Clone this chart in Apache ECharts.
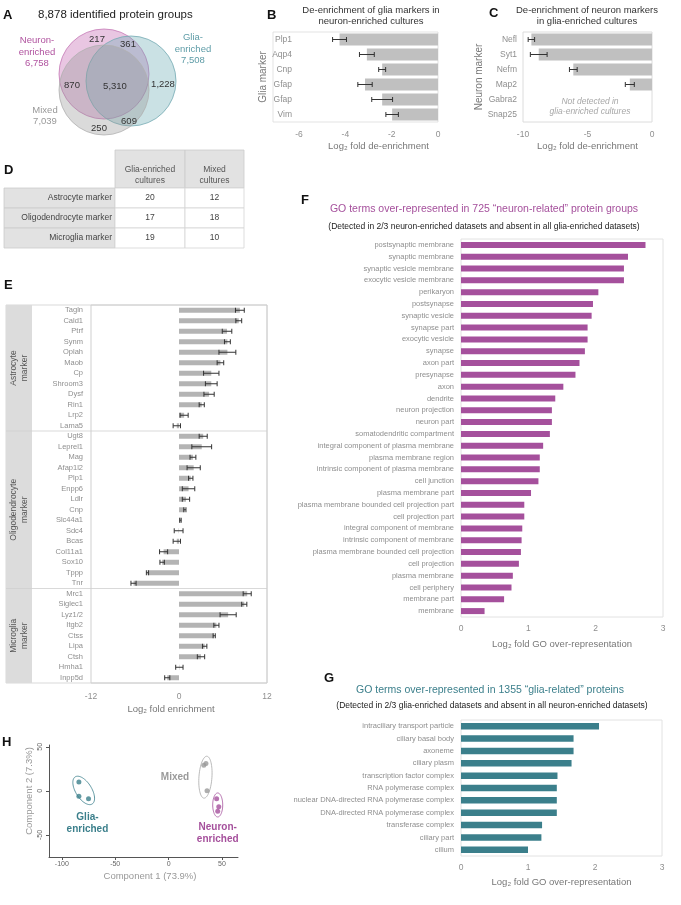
<!DOCTYPE html>
<html>
<head>
<meta charset="utf-8">
<script src="https://cdn.jsdelivr.net/npm/echarts@6/dist/echarts.min.js"></script>
<style>
  html, body { margin: 0; padding: 0; background: #fff; }
  #chart { width: 681px; height: 905px; }
</style>
</head>
<body>
<div id="chart"></div>
<script>
// A - venn
const vennSets = ['Neuron-\nenriched\n6,758', 'Glia-\nenriched\n7,508', 'Mixed\n7,039'];
const vennCounts = ['217', '361', '870', '5,310', '1,228', '609', '250'];

// B - glia markers in neuron-enriched cultures
const bGenes = ['Plp1', 'Aqp4', 'Cnp', 'Gfap', 'Gfap', 'Vim'];
const bValues = [-4.25, -3.07, -2.41, -3.15, -2.41, -1.98];
const bErrors = [0.3, 0.32, 0.15, 0.31, 0.45, 0.27];

// C - neuron markers in glia-enriched cultures
const cGenes = ['Nefl', 'Syt1', 'Nefm', 'Map2', 'Gabra2', 'Snap25'];
const cValues = [-9.35, -8.78, -6.1, -1.72, null, null];
const cErrors = [0.25, 0.65, 0.3, 0.35, null, null];

// D - table
const dRows = ['Astrocyte marker', 'Oligodendrocyte marker', 'Microglia marker'];
const dCols = ['Glia-enriched\ncultures', 'Mixed\ncultures'];
const dGlia = [20, 17, 19];
const dMixed = [12, 18, 10];

// E - marker enrichment
const eGroups = ['Astrocyte\nmarker', 'Oligodendrocyte\nmarker', 'Microglia\nmarker'];
const eGroupSizes = [12, 15, 9];
const eGenes = ['Tagln', 'Cald1', 'Ptrf', 'Synm', 'Oplah', 'Maob', 'Cp', 'Shroom3', 'Dysf', 'Rin1', 'Lrp2', 'Lama5',
  'Ugt8', 'Leprel1', 'Mag', 'Afap1l2', 'Plp1', 'Enpp6', 'Ldlr', 'Cnp', 'Slc44a1', 'Sdc4', 'Bcas', 'Col11a1', 'Sox10', 'Tppp', 'Tnr',
  'Mrc1', 'Siglec1', 'Lyz1/2', 'Itgb2', 'Ctss', 'Lipa', 'Ctsh', 'Hmha1', 'Inpp5d'];
const eValues = [8.3, 8.15, 6.55, 6.6, 6.6, 5.65, 4.4, 4.4, 4.1, 3.1, 0.7, -0.3,
  3.3, 3.1, 1.9, 2.0, 1.6, 1.3, 0.95, 0.8, 0.2, -0.05, -0.3, -2.1, -2.3, -4.3, -6.2,
  9.3, 8.9, 6.7, 5.1, 4.8, 3.5, 3.0, 0.05, -1.6];
const eErrors = [0.6, 0.4, 0.65, 0.4, 1.15, 0.45, 1.05, 0.8, 0.7, 0.35, 0.55, 0.5,
  0.55, 1.35, 0.4, 0.9, 0.3, 0.85, 0.5, 0.15, 0.1, 0.6, 0.5, 0.55, 0.3, 0.15, 0.35,
  0.55, 0.35, 1.1, 0.35, 0.15, 0.3, 0.5, 0.5, 0.35];

// F - GO terms neuron-related
const fTerms = ['postsynaptic membrane', 'synaptic membrane', 'synaptic vesicle membrane', 'exocytic vesicle membrane',
  'perikaryon', 'postsynapse', 'synaptic vesicle', 'synapse part', 'exocytic vesicle', 'synapse', 'axon part',
  'presynapse', 'axon', 'dendrite', 'neuron projection', 'neuron part', 'somatodendritic compartment',
  'integral component of plasma membrane', 'plasma membrane region', 'intrinsic component of plasma membrane',
  'cell junction', 'plasma membrane part', 'plasma membrane bounded cell projection part', 'cell projection part',
  'integral component of membrane', 'intrinsic component of membrane', 'plasma membrane bounded cell projection',
  'cell projection', 'plasma membrane', 'cell periphery', 'membrane part', 'membrane'];
const fValues = [2.74, 2.48, 2.42, 2.42, 2.04, 1.96, 1.94, 1.88, 1.88, 1.84, 1.76, 1.70, 1.52, 1.40, 1.35, 1.35,
  1.32, 1.22, 1.17, 1.17, 1.15, 1.04, 0.94, 0.94, 0.91, 0.90, 0.89, 0.86, 0.77, 0.75, 0.64, 0.35];

// G - GO terms glia-related
const gTerms = ['intraciliary transport particle', 'ciliary basal body', 'axoneme', 'ciliary plasm',
  'transcription factor complex', 'RNA polymerase complex', 'nuclear DNA-directed RNA polymerase complex',
  'DNA-directed RNA polymerase complex', 'transferase complex', 'ciliary part', 'cilium'];
const gValues = [2.06, 1.68, 1.68, 1.65, 1.44, 1.43, 1.43, 1.43, 1.21, 1.20, 1.0];

// H - PCA
const hNames = ['Glia-\nenriched', 'Mixed', 'Neuron-\nenriched'];
const hGlia = [[-84, 10], [-84, -6], [-75, -9]];
const hMixed = [[33, 29], [35, 31], [36, 0]];
const hNeuron = [[45, -9], [47, -18], [46, -23]];

const FONT = '"Liberation Sans", Arial, Helvetica, sans-serif';
const MAGENTA = '#a5509c';
const TEAL = '#3b7f8b';
const LBL = '#8f8f8f';
const BAR = '#c0c0c0';

const chart = echarts.init(document.getElementById('chart'));

// error bars drawn with the axis scale
function errorBars(xi, vals, errs) {
  const data = [];
  vals.forEach((v, i) => { if (v != null) data.push([v, i, errs[i]]); });
  return {
    type: 'custom', xAxisIndex: xi, yAxisIndex: xi, data: data, z: 5,
    encode: { x: 0, y: 1 },
    renderItem: (params, api) => {
      const v = api.value(0), i = api.value(1), e = api.value(2);
      const p1 = api.coord([v - e, i]);
      const p2 = api.coord([v + e, i]);
      const h = 2.5;
      const st = { stroke: '#333', lineWidth: 1 };
      return {
        type: 'group', children: [
          { type: 'line', shape: { x1: p1[0], y1: p1[1], x2: p2[0], y2: p2[1] }, style: st },
          { type: 'line', shape: { x1: p1[0], y1: p1[1] - h, x2: p1[0], y2: p1[1] + h }, style: st },
          { type: 'line', shape: { x1: p2[0], y1: p2[1] - h, x2: p2[0], y2: p2[1] + h }, style: st }
        ]
      };
    }
  };
}

function catAxis(gi, data, margin, fontSize, extra) {
  return Object.assign({
    gridIndex: gi, type: 'category', data: data, inverse: true,
    axisLine: { show: false }, axisTick: { show: false }, splitLine: { show: false },
    axisLabel: { color: LBL, fontSize: fontSize, fontFamily: FONT, margin: margin }
  }, extra || {});
}

function valAxis(gi, min, max, interval, name, nameGap, pad, margin) {
  return {
    gridIndex: gi, type: 'value', min: min, max: max, interval: interval,
    axisLine: { show: false }, axisTick: { show: false }, splitLine: { show: false },
    axisLabel: { color: LBL, fontSize: 8.5, fontFamily: FONT, margin: margin },
    name: name, nameLocation: 'middle', nameGap: nameGap,
    nameTextStyle: { color: '#777', fontSize: 9.5, fontFamily: FONT, padding: pad }
  };
}

const hAxisLine = { onZero: false, lineStyle: { color: '#555', width: 1 } };

const option = {
  animation: false,
  textStyle: { fontFamily: FONT },
  grid: [
    { left: 299, top: 32, width: 139, height: 90 },
    { left: 523, top: 32, width: 129, height: 90, show: true, borderColor: '#dcdcdc' },
    { left: 91, top: 305, width: 176, height: 378, show: true, borderColor: '#cfcfcf' },
    { left: 461, top: 239, width: 202, height: 378, show: true, borderColor: '#e2e2e2' },
    { left: 461, top: 720, width: 201, height: 136, show: true, borderColor: '#e2e2e2' },
    { left: 49, top: 745, width: 189, height: 112 }
  ],
  xAxis: [
    valAxis(0, -6, 0, 2, 'Log\u2082 fold de-enrichment', 19, [0, 0, 0, 20], 8),
    valAxis(1, -10, 0, 5, 'Log\u2082 fold de-enrichment', 19, [0, 0, 0, 0], 8),
    valAxis(2, -12, 12, 12, 'Log\u2082 fold enrichment', 21, [0, 16, 0, 0], 9),
    valAxis(3, 0, 3, 1, 'Log\u2082 fold GO over-representation', 22, [0, 0, 0, 0], 7),
    valAxis(4, 0, 3, 1, 'Log\u2082 fold GO over-representation', 21, [0, 0, 0, 0], 7),
    {
      gridIndex: 5, type: 'value', min: -112, max: 65,
      axisLine: hAxisLine, splitLine: { show: false },
      axisTick: { show: true, length: 3, lineStyle: { color: '#555' }, customValues: [-100, -50, 0, 50] },
      axisLabel: { color: '#666', fontSize: 7, margin: 4, customValues: [-100, -50, 0, 50] }
    }
  ],
  yAxis: [
    catAxis(0, bGenes, 7, 8.5, {
      name: 'Glia marker', nameLocation: 'middle', nameGap: 31, nameRotate: 90,
      nameTextStyle: { color: '#777', fontSize: 10, fontFamily: FONT }
    }),
    catAxis(1, cGenes, 6, 8.5, {
      name: 'Neuron marker', nameLocation: 'middle', nameGap: 35, nameRotate: 90,
      nameTextStyle: { color: '#777', fontSize: 10, fontFamily: FONT }
    }),
    catAxis(2, eGenes, 8, 7.5),
    catAxis(3, fTerms, 7, 7.5),
    catAxis(4, gTerms, 7, 7.5),
    {
      gridIndex: 5, type: 'value', min: -75, max: 52,
      axisLine: hAxisLine, splitLine: { show: false },
      axisTick: { show: true, length: 3, lineStyle: { color: '#555' }, customValues: [-50, 0, 50] },
      axisLabel: { color: '#666', fontSize: 7, margin: 5, rotate: 90, customValues: [-50, 0, 50] }
    }
  ],
  series: [
    { type: 'bar', xAxisIndex: 0, yAxisIndex: 0, data: bValues, barWidth: 12, itemStyle: { color: BAR } },
    errorBars(0, bValues, bErrors),
    { type: 'bar', xAxisIndex: 1, yAxisIndex: 1, data: cValues, barWidth: 12, itemStyle: { color: BAR } },
    errorBars(1, cValues, cErrors),
    { type: 'bar', xAxisIndex: 2, yAxisIndex: 2, data: eValues, barWidth: 5, itemStyle: { color: '#b4b4b4' } },
    errorBars(2, eValues, eErrors),
    { type: 'bar', xAxisIndex: 3, yAxisIndex: 3, data: fValues, barWidth: 6, itemStyle: { color: MAGENTA } },
    { type: 'bar', xAxisIndex: 4, yAxisIndex: 4, data: gValues, barWidth: 6.5, itemStyle: { color: TEAL } },
    { type: 'scatter', xAxisIndex: 5, yAxisIndex: 5, data: hGlia, symbolSize: 5, itemStyle: { color: TEAL } },
    { type: 'scatter', xAxisIndex: 5, yAxisIndex: 5, data: hMixed, symbolSize: 5, itemStyle: { color: '#9a9a9a' } },
    { type: 'scatter', xAxisIndex: 5, yAxisIndex: 5, data: hNeuron, symbolSize: 5, itemStyle: { color: MAGENTA } }
  ]
};

// ellipses around each PCA group (centred on the group's extent)
const hGroups = [hGlia, hMixed, hNeuron];
const hColors = [TEAL, '#a8a8a8', MAGENTA];
const hEllipseShape = [[16, 8, 58], [6.5, 21, 4], [5, 12, 0]];
function groupCenter(pts) {
  const xs = pts.map(p => p[0]), ys = pts.map(p => p[1]);
  return [(Math.min(...xs) + Math.max(...xs)) / 2, (Math.min(...ys) + Math.max(...ys)) / 2];
}
option.series.push({
  type: 'custom', xAxisIndex: 5, yAxisIndex: 5,
  data: hGroups.map(groupCenter),
  renderItem: (params, api) => {
    const c = api.coord([api.value(0), api.value(1)]);
    const [rx, ry, deg] = hEllipseShape[params.dataIndex];
    const a = deg * Math.PI / 180;
    const pts = [];
    for (let k = 0; k <= 72; k++) {
      const t = k / 72 * Math.PI * 2;
      const ex = rx * Math.cos(t), ey = ry * Math.sin(t);
      pts.push([c[0] + ex * Math.cos(a) - ey * Math.sin(a), c[1] + ex * Math.sin(a) + ey * Math.cos(a)]);
    }
    return { type: 'polyline', shape: { points: pts }, style: { fill: null, stroke: hColors[params.dataIndex], lineWidth: 0.8 } };
  }
});

chart.setOption(option);

// static and axis-dependent decorations
function buildGraphics() {
  const g = [];
  const T = (x, y, text, st, extra) => g.push(Object.assign({
    type: 'text', x: x, y: y, silent: true,
    style: Object.assign({ text: text, fill: '#333', fontSize: 9, fontFamily: FONT, align: 'center', verticalAlign: 'middle' }, st || {})
  }, extra || {}));
  const R = (x, y, w, h, fill, stroke) => g.push({
    type: 'rect', silent: true, shape: { x: x, y: y, width: w, height: h },
    style: { fill: fill, stroke: stroke || null, lineWidth: 0.8 }, z: -1
  });

  // panel letters
  [['A', 3, 15], ['B', 267, 15], ['C', 489, 13], ['D', 4, 170], ['E', 4, 285], ['F', 301, 200], ['G', 324, 678], ['H', 2, 742]]
    .forEach(([l, x, y]) => T(x, y, l, { fontSize: 13, fontWeight: 'bold', fill: '#111', align: 'left' }));

  // A: venn
  T(38, 15, '8,878 identified protein groups', { fontSize: 11.5, align: 'left', fill: '#222' });
  g.push({ type: 'circle', silent: true, shape: { cx: 104, cy: 74, r: 45 }, style: { fill: 'rgba(196,104,178,0.38)', stroke: '#c57ab6', lineWidth: 0.8 } });
  g.push({ type: 'circle', silent: true, shape: { cx: 131, cy: 81, r: 45 }, style: { fill: 'rgba(104,168,178,0.35)', stroke: '#74aab3', lineWidth: 0.8 } });
  g.push({ type: 'circle', silent: true, shape: { cx: 104, cy: 90, r: 45 }, style: { fill: 'rgba(150,150,150,0.35)', stroke: '#b0b0b0', lineWidth: 0.8 } });
  T(37, 52, vennSets[0], { fill: '#b0529f', fontSize: 9.5, lineHeight: 11.5 });
  T(193, 49, vennSets[1], { fill: '#5e9ca7', fontSize: 9.5, lineHeight: 11.5 });
  T(45, 116, vennSets[2], { fill: '#999', fontSize: 9.5, lineHeight: 11.5 });
  const vennPos = [[97, 39], [128, 44], [72, 85], [115, 86], [163, 84], [129, 121], [99, 128]];
  vennCounts.forEach((v, i) => T(vennPos[i][0], vennPos[i][1], v, { fontSize: 9.5, fill: '#333' }));

  // B / C titles and box
  T(371, 16, 'De-enrichment of glia markers in\nneuron-enriched cultures', { fontSize: 9.5, lineHeight: 11, fill: '#333' });
  T(587, 16, 'De-enrichment of neuron markers\nin glia-enriched cultures', { fontSize: 9.5, lineHeight: 11, fill: '#333' });
  R(273, 32, 165, 90, null, '#dcdcdc');
  const cRow = i => chart.convertToPixel({ yAxisIndex: 1 }, i);
  T(590, (cRow(4) + cRow(5)) / 2, 'Not detected in\nglia-enriched cultures',
    { fontSize: 8.5, lineHeight: 10, fill: '#a8a8a8', fontStyle: 'italic' });

  // D: table
  R(115, 150, 70, 38, '#e2e2e2', '#cccccc');
  R(185, 150, 59, 38, '#e2e2e2', '#cccccc');
  T(150, 175, dCols[0], { fontSize: 8.5, lineHeight: 11, fill: '#555' });
  T(214.5, 175, dCols[1], { fontSize: 8.5, lineHeight: 11, fill: '#555' });
  dRows.forEach((r, i) => {
    const y = 188 + i * 20;
    R(4, y, 111, 20, '#e2e2e2', '#cccccc');
    R(115, y, 70, 20, '#ffffff', '#d4d4d4');
    R(185, y, 59, 20, '#ffffff', '#d4d4d4');
    T(112, y + 10, r, { fontSize: 8.5, align: 'right', fill: '#444' });
    T(150, y + 10, String(dGlia[i]), { fontSize: 8.5, fill: '#444' });
    T(214.5, y + 10, String(dMixed[i]), { fontSize: 8.5, fill: '#444' });
  });

  // E: frame, group column, dividers
  const eRow = i => chart.convertToPixel({ yAxisIndex: 2 }, i);
  const rowH = eRow(1) - eRow(0);
  const top = eRow(0) - rowH / 2, bottom = eRow(eGenes.length - 1) + rowH / 2;
  R(6, top, 261, bottom - top, null, '#cfcfcf');
  R(6, top, 26, bottom - top, '#dcdcdc', null);
  let start = 0;
  eGroupSizes.forEach((n, gi) => {
    const y0 = eRow(start) - rowH / 2, y1 = eRow(start + n - 1) + rowH / 2;
    if (gi > 0) g.push({ type: 'line', silent: true, shape: { x1: 6, y1: y0, x2: 267, y2: y0 }, style: { stroke: '#cfcfcf', lineWidth: 0.8 } });
    T(19, (y0 + y1) / 2, eGroups[gi], { fontSize: 8.5, lineHeight: 11, fill: '#555' }, { rotation: Math.PI / 2 });
    start += n;
  });

  // F / G titles
  T(484, 209, 'GO terms over-represented in 725 \u201cneuron-related\u201d protein groups', { fontSize: 10.5, fill: MAGENTA });
  T(484, 227, '(Detected in 2/3 neuron-enriched datasets and absent in all glia-enriched datasets)', { fontSize: 8.5, fill: '#222' });
  T(490, 690, 'GO terms over-represented in 1355 \u201cglia-related\u201d proteins', { fontSize: 10.5, fill: TEAL });
  T(492, 706, '(Detected in 2/3 glia-enriched datasets and absent in all neuron-enriched datasets)', { fontSize: 8.5, fill: '#222' });

  // H: group labels and axis names
  const hp = (x, y) => chart.convertToPixel({ gridIndex: 5 }, [x, y]);
  const pg = hp(-76, -37), pm = hp(6, 15), pn = hp(46, -48);
  T(pg[0], pg[1], hNames[0], { fontSize: 10, fontWeight: 'bold', fill: TEAL, lineHeight: 12 });
  T(pm[0], pm[1], hNames[1], { fontSize: 10, fontWeight: 'bold', fill: '#9a9a9a' });
  T(pn[0], pn[1], hNames[2], { fontSize: 10, fontWeight: 'bold', fill: MAGENTA, lineHeight: 12 });
  T(150, 876, 'Component 1 (73.9%)', { fontSize: 9.5, fill: '#999' });
  T(29, 791, 'Component 2 (7.3%)', { fontSize: 9.5, fill: '#999' }, { rotation: Math.PI / 2 });
  return g;
}

chart.setOption({ graphic: buildGraphics() });
</script>
</body>
</html>
